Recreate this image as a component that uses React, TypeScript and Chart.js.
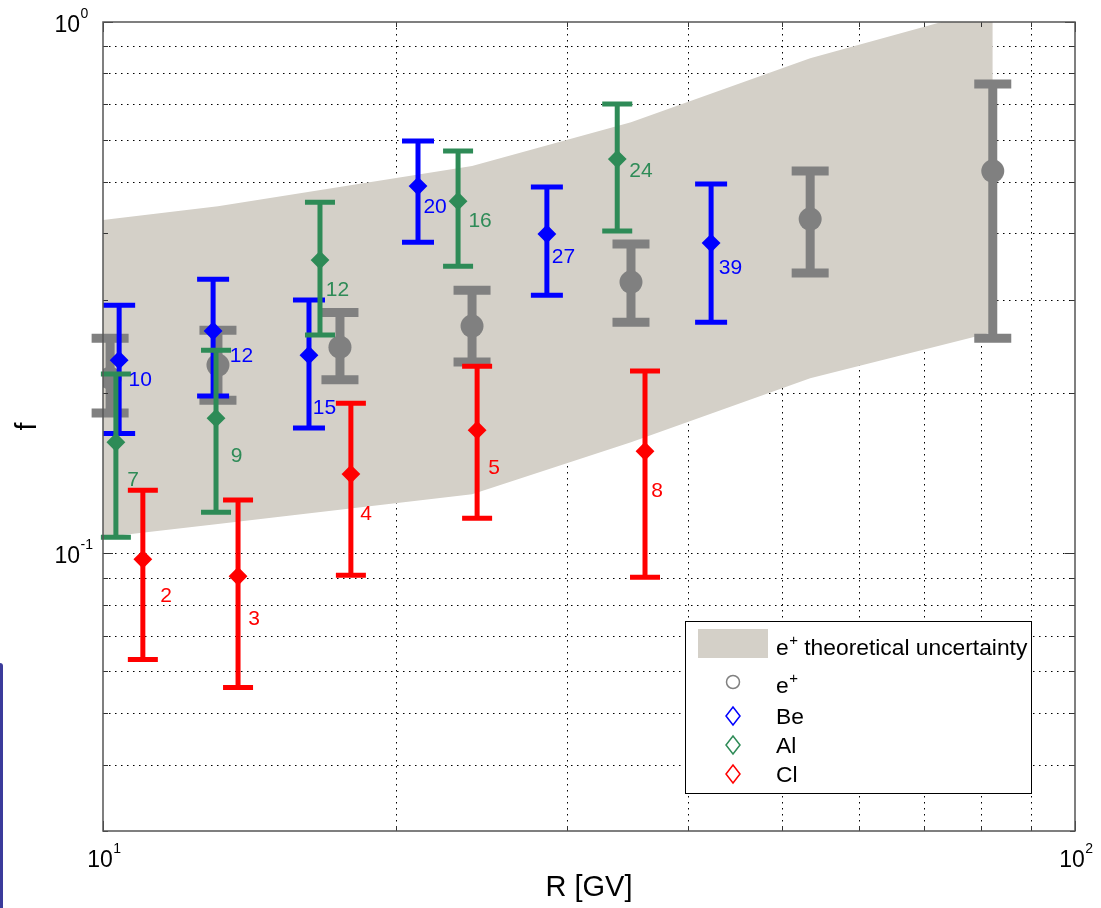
import React, { useEffect, useRef } from "react";
import { Chart, registerables } from "chart.js";
Chart.register(...registerables);

// ---- data ----
const bandX = [10, 13.13, 23.97, 34.93, 53.4, 82.3];
const bandUpper = [0.4238, 0.45, 0.5355, 0.6479, 0.855, 1.063];
const bandLower = [0.1072, 0.1135, 0.1291, 0.1618, 0.2136, 0.2607];

const eX = [10.17, 13.13, 17.53, 23.97, 34.93, 53.4, 82.3];
const eY = [0.2136, 0.226, 0.2443, 0.2677, 0.324, 0.4256, 0.524];
const eLo = [0.1836, 0.194, 0.212, 0.229, 0.272, 0.3368, 0.254];
const eHi = [0.254, 0.263, 0.284, 0.3127, 0.382, 0.524, 0.764];

const beX = [10.39, 12.98, 16.29, 21.09, 28.62, 42.23];
const beY = [0.2309, 0.262, 0.236, 0.491, 0.399, 0.3836];
const beLo = [0.168, 0.1976, 0.172, 0.385, 0.306, 0.272];
const beHi = [0.293, 0.328, 0.2997, 0.597, 0.489, 0.4955];
const beLabels = ["10", "12", "15", "20", "27", "39"];
const beLabelX = [10.92, 13.88, 16.9, 21.96, 29.77, 44.22];
const beLabelY = [0.2123, 0.2355, 0.1884, 0.45, 0.3625, 0.3456];

const alX = [10.31, 13.07, 16.72, 23.19, 33.81];
const alY = [0.1618, 0.1796, 0.3563, 0.46, 0.552];
const alLo = [0.1072, 0.1195, 0.2574, 0.347, 0.404];
const alHi = [0.2174, 0.241, 0.458, 0.5717, 0.7006];
const alLabels = ["7", "9", "12", "16", "24"];
const alLabelX = [10.74, 13.72, 17.43, 24.43, 35.77];
const alLabelY = [0.1378, 0.153, 0.3134, 0.4238, 0.5264];

const clX = [10.99, 13.77, 17.99, 24.26, 36.11];
const clY = [0.0974, 0.0905, 0.1409, 0.1705, 0.1556];
const clLo = [0.0631, 0.0559, 0.0909, 0.1164, 0.0901];
const clHi = [0.1314, 0.1259, 0.1916, 0.225, 0.2203];
const clLabels = ["2", "3", "4", "5", "8"];
const clLabelX = [11.61, 14.3, 18.65, 25.25, 37.15];
const clLabelY = [0.0834, 0.0754, 0.119, 0.1452, 0.1314];

const xGrid = [10, 20, 30, 40, 50, 60, 70, 80, 90, 100];
const yGrid = [0.03, 0.04, 0.05, 0.06, 0.07, 0.08, 0.09, 0.1, 0.2, 0.3, 0.4, 0.5, 0.6, 0.7, 0.8, 0.9, 1];
const xTickValues = [10, 100];
const xTickExps = ["1", "2"];
const yTickValues = [0.1, 1];
const yTickExps = ["-1", "0"];

const legendLabels = ["e+ theoretical uncertainty", "e+", "Be", "Al", "Cl"];
const xTitle = "R [GV]";
const yTitle = "f";

// ---- styles ----
const BAND = "#d4d0c8";
const GRAY = "#808080";
const BLUE = "#0000ff";
const GREEN = "#2e8b57";
const RED = "#ff0000";
const FONT = '"Liberation Sans", Arial, Helvetica, sans-serif';

const pts = (xs: number[], ys: number[]) => xs.map((x, i) => ({ x, y: ys[i] }));

export default function App() {
  const ref = useRef<HTMLCanvasElement>(null);

  useEffect(() => {
    const canvas = ref.current!;
    const errs: any[] = [
      null,
      null,
      { lo: eLo, hi: eHi, color: GRAY, w: 9, capW: 37, capT: 9 },
      { lo: beLo, hi: beHi, color: BLUE, w: 5, capW: 32, capT: 5 },
      { lo: alLo, hi: alHi, color: GREEN, w: 5, capW: 30, capT: 5 },
      { lo: clLo, hi: clHi, color: RED, w: 5, capW: 30, capT: 5 },
    ];
    const labelSets = [
      { labels: beLabels, x: beLabelX, y: beLabelY, color: BLUE },
      { labels: alLabels, x: alLabelX, y: alLabelY, color: GREEN },
      { labels: clLabels, x: clLabelX, y: clLabelY, color: RED },
    ];

    const drawSup = (ctx: CanvasRenderingContext2D, x: number, y: number, base: string, sup: string, size: number, supSize: number, rise: number) => {
      ctx.font = `${size}px ${FONT}`;
      ctx.textAlign = "left";
      ctx.textBaseline = "alphabetic";
      ctx.fillText(base, x, y);
      const w = ctx.measureText(base).width;
      ctx.font = `${supSize}px ${FONT}`;
      ctx.fillText(sup, x + w + 0.5, y - rise);
      return w + 0.5 + ctx.measureText(sup).width;
    };

    const plugin = {
      id: "custom",
      beforeDraw(chart: any) {
        const { ctx, chartArea: a } = chart;
        const xs = chart.scales.x, ys = chart.scales.y;
        ctx.save();
        ctx.strokeStyle = "#000";
        ctx.lineWidth = 1;
        ctx.setLineDash([1.5, 4.5]);
        xGrid.forEach((v) => {
          if (v === 10 || v === 100) return;
          const p = Math.round(xs.getPixelForValue(v)) + 0.5;
          ctx.beginPath();
          ctx.moveTo(p, a.top);
          ctx.lineTo(p, a.bottom);
          ctx.stroke();
        });
        yGrid.forEach((v) => {
          if (v === 0.03 || v === 1) return;
          const p = Math.round(ys.getPixelForValue(v)) + 0.5;
          ctx.beginPath();
          ctx.moveTo(a.left, p);
          ctx.lineTo(a.right, p);
          ctx.stroke();
        });
        ctx.restore();
      },
      beforeDatasetDraw(chart: any, args: any) {
        const e = errs[args.index];
        if (!e) return;
        const { ctx } = chart;
        const xs = chart.scales.x, ys = chart.scales.y;
        const ds = chart.data.datasets[args.index].data;
        ctx.save();
        ctx.strokeStyle = e.color;
        ctx.setLineDash([]);
        ds.forEach((d: any, i: number) => {
          const px = xs.getPixelForValue(d.x);
          const yl = ys.getPixelForValue(e.lo[i]);
          const yh = ys.getPixelForValue(e.hi[i]);
          ctx.lineWidth = e.w;
          ctx.beginPath();
          ctx.moveTo(px, yh);
          ctx.lineTo(px, yl);
          ctx.stroke();
          ctx.lineWidth = e.capT;
          ctx.beginPath();
          ctx.moveTo(px - e.capW / 2, yh);
          ctx.lineTo(px + e.capW / 2, yh);
          ctx.moveTo(px - e.capW / 2, yl);
          ctx.lineTo(px + e.capW / 2, yl);
          ctx.stroke();
        });
        ctx.restore();
      },
      afterDatasetsDraw(chart: any) {
        const { ctx, chartArea: a } = chart;
        const xs = chart.scales.x, ys = chart.scales.y;
        ctx.save();
        // data labels
        ctx.font = `21px ${FONT}`;
        ctx.textAlign = "center";
        ctx.textBaseline = "middle";
        labelSets.forEach((s) => {
          ctx.fillStyle = s.color;
          s.labels.forEach((t, i) => {
            ctx.fillText(t, xs.getPixelForValue(s.x[i]), ys.getPixelForValue(s.y[i]) + 1);
          });
        });
        // ticks
        ctx.strokeStyle = "#333";
        ctx.lineWidth = 1;
        ctx.setLineDash([]);
        xGrid.forEach((v) => {
          const p = Math.round(xs.getPixelForValue(v)) + 0.5;
          const len = v === 10 || v === 100 ? 10 : 5;
          ctx.beginPath();
          ctx.moveTo(p, a.bottom);
          ctx.lineTo(p, a.bottom - len);
          ctx.moveTo(p, a.top);
          ctx.lineTo(p, a.top + len);
          ctx.stroke();
        });
        yGrid.forEach((v) => {
          const p = Math.round(ys.getPixelForValue(v)) + 0.5;
          const len = v === 0.1 || v === 1 ? 10 : 5;
          ctx.beginPath();
          ctx.moveTo(a.left, p);
          ctx.lineTo(a.left + len, p);
          ctx.moveTo(a.right, p);
          ctx.lineTo(a.right - len, p);
          ctx.stroke();
        });
        // border
        ctx.strokeStyle = "#555";
        ctx.lineWidth = 1.5;
        ctx.strokeRect(a.left, a.top, a.right - a.left, a.bottom - a.top);
        ctx.restore();
      },
      afterDraw(chart: any) {
        const { ctx, chartArea: a } = chart;
        const xs = chart.scales.x, ys = chart.scales.y;
        ctx.save();
        ctx.fillStyle = "#000";
        // y tick labels
        yTickValues.forEach((v, i) => {
          const p = ys.getPixelForValue(v);
          ctx.font = `23px ${FONT}`;
          const w = ctx.measureText("10").width;
          drawSup(ctx, a.left - 23 - w, p + 10, "10", yTickExps[i], 23, 14, 14);
        });
        // x tick labels
        xTickValues.forEach((v, i) => {
          const p = xs.getPixelForValue(v);
          ctx.font = `23px ${FONT}`;
          const w = ctx.measureText("10").width;
          drawSup(ctx, p - w / 2 - 3, 867, "10", xTickExps[i], 23, 14, 14);
        });
        // axis titles
        ctx.font = `29px ${FONT}`;
        ctx.textAlign = "center";
        ctx.textBaseline = "alphabetic";
        ctx.fillText(xTitle, (a.left + a.right) / 2, 896);
        ctx.save();
        ctx.translate(36, (a.top + a.bottom) / 2);
        ctx.rotate(-Math.PI / 2);
        ctx.fillText(yTitle, 0, 0);
        ctx.restore();

        // legend
        const L = 685, T = 621, W = 346, H = 172;
        ctx.fillStyle = "#fff";
        ctx.fillRect(L, T, W, H);
        ctx.strokeStyle = "#000";
        ctx.lineWidth = 1;
        ctx.strokeRect(L + 0.5, T + 0.5, W, H);
        ctx.fillStyle = BAND;
        ctx.fillRect(698, 629, 70, 29);
        const mx = 733;
        ctx.strokeStyle = GRAY;
        ctx.lineWidth = 1.5;
        ctx.beginPath();
        ctx.arc(mx, 682, 6.5, 0, Math.PI * 2);
        ctx.stroke();
        const dia = (cy: number, color: string) => {
          ctx.strokeStyle = color;
          ctx.beginPath();
          ctx.moveTo(mx, cy - 9);
          ctx.lineTo(mx + 7, cy);
          ctx.lineTo(mx, cy + 9);
          ctx.lineTo(mx - 7, cy);
          ctx.closePath();
          ctx.stroke();
        };
        dia(716, BLUE);
        dia(745, GREEN);
        dia(774, RED);
        ctx.fillStyle = "#000";
        const tx = 776;
        const w1 = drawSup(ctx, tx, 655, "e", "+", 22.8, 15, 10);
        ctx.font = `22.8px ${FONT}`;
        ctx.fillText(legendLabels[0].slice(2), tx + w1, 655);
        drawSup(ctx, tx, 693, "e", "+", 22.8, 15, 10);
        ctx.font = `22.8px ${FONT}`;
        ctx.fillText(legendLabels[2], tx, 724);
        ctx.fillText(legendLabels[3], tx, 753);
        ctx.fillText(legendLabels[4], tx, 782);
        ctx.restore();
      },
    };

    const chart = new Chart(canvas, {
      type: "line",
      data: {
        datasets: [
          {
            label: "band upper",
            data: pts(bandX, bandUpper),
            fill: "+1",
            backgroundColor: BAND,
            borderColor: "rgba(0,0,0,0)",
            borderWidth: 0,
            pointRadius: 0,
            tension: 0,
            order: 10,
          },
          {
            label: "band lower",
            data: pts(bandX, bandLower),
            fill: false,
            borderColor: "rgba(0,0,0,0)",
            borderWidth: 0,
            pointRadius: 0,
            tension: 0,
            order: 9,
          },
          {
            label: "e+",
            data: pts(eX, eY),
            showLine: false,
            pointStyle: "circle",
            pointRadius: 11.5,
            backgroundColor: GRAY,
            borderColor: GRAY,
            borderWidth: 0,
            order: 4,
          },
          {
            label: "Be",
            data: pts(beX, beY),
            showLine: false,
            pointStyle: "rectRot",
            pointRadius: 8,
            backgroundColor: BLUE,
            borderColor: BLUE,
            borderWidth: 2,
            order: 3,
          },
          {
            label: "Al",
            data: pts(alX, alY),
            showLine: false,
            pointStyle: "rectRot",
            pointRadius: 8,
            backgroundColor: GREEN,
            borderColor: GREEN,
            borderWidth: 2,
            order: 2,
          },
          {
            label: "Cl",
            data: pts(clX, clY),
            showLine: false,
            pointStyle: "rectRot",
            pointRadius: 8,
            backgroundColor: RED,
            borderColor: RED,
            borderWidth: 2,
            order: 1,
          },
        ],
      },
      options: {
        responsive: false,
        animation: false,
        events: [],
        layout: { padding: { left: 103, top: 22, right: 26, bottom: 77 } },
        scales: {
          x: { type: "logarithmic", min: 10, max: 100, display: false },
          y: { type: "logarithmic", min: 0.03, max: 1, display: false },
        },
        plugins: { legend: { display: false }, tooltip: { enabled: false } },
      },
      plugins: [plugin],
    } as any);
    return () => chart.destroy();
  }, []);

  return (
    <div style={{ position: "absolute", left: 0, top: 0, width: 1101, height: 908, background: "#fff", overflow: "hidden" }}>
      <canvas ref={ref} width={1101} height={908} style={{ display: "block", width: 1101, height: 908 }} />
      <div style={{ position: "absolute", left: 0, top: 663, width: 3, height: 245, background: "#3b3b9b", borderTopRightRadius: 3 }} />
    </div>
  );
}
